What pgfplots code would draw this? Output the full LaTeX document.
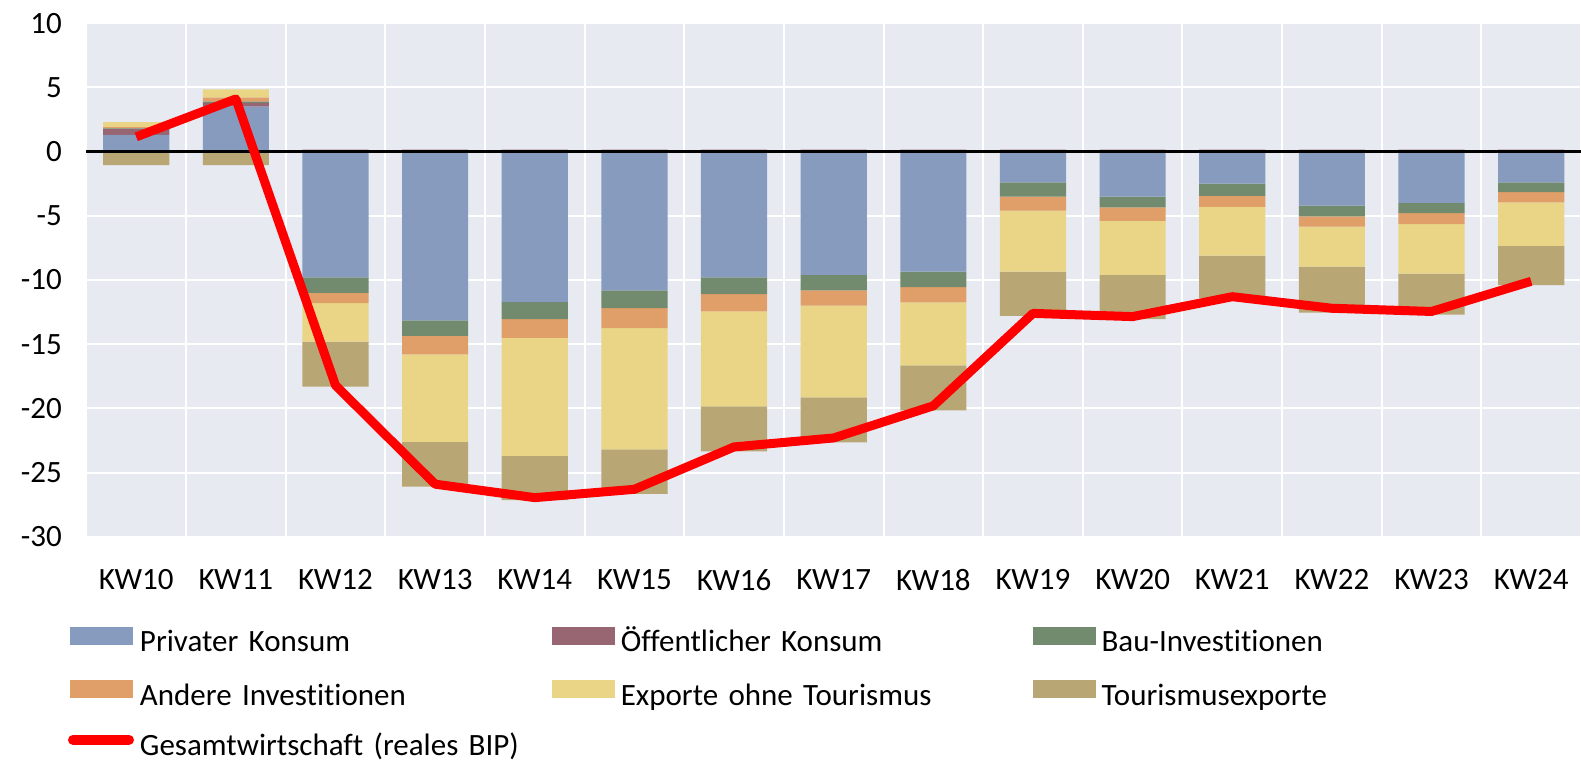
\documentclass[border=0pt]{standalone}
\usepackage{fontspec}
\setmainfont{Carlito}[Ligatures=NoCommon]
\usepackage{pgfplots}
\pgfplotsset{compat=1.18}
\usepackage{pgfplotstable}

\definecolor{cPriv}{HTML}{879BBE}
\definecolor{cOeff}{HTML}{986573}
\definecolor{cBau}{HTML}{728A6D}
\definecolor{cAnd}{HTML}{E09E68}
\definecolor{cExp}{HTML}{E9D585}
\definecolor{cTour}{HTML}{B9A675}
\definecolor{cBg}{HTML}{E7EAF1}

\newcommand{\lblfont}{\fontsize{15.5pt}{18pt}\selectfont}

% negative parts of the contributions
\pgfplotstableread{
x priv oeff bau and exp tour
0 0 0 0 0 0 -1.05
1 0 0 0 0 0 -1.05
2 -9.8 0 -1.2 -0.8 -3.0 -3.5
3 -13.15 0 -1.2 -1.45 -6.8 -3.5
4 -11.7 0 -1.35 -1.45 -9.2 -3.45
5 -10.8 0 -1.4 -1.55 -9.45 -3.45
6 -9.8 0 -1.3 -1.35 -7.4 -3.5
7 -9.6 0 -1.2 -1.2 -7.15 -3.5
8 -9.35 0 -1.2 -1.2 -4.9 -3.5
9 -2.4 0 -1.1 -1.1 -4.75 -3.45
10 -3.5 0 -0.85 -1.05 -4.2 -3.45
11 -2.5 0 -0.95 -0.85 -3.8 -3.3
12 -4.2 0 -0.85 -0.8 -3.1 -3.6
13 -4.0 0 -0.8 -0.85 -3.85 -3.2
14 -2.4 0 -0.75 -0.8 -3.4 -3.05
}\negdata

% positive parts
\pgfplotstableread{
x priv oeff bau and exp tour
0 1.3 0.45 0.05 0.1 0.4 0
1 3.5 0.3 0.1 0.3 0.65 0
2 0 0.15 0 0 0 0
3 0 0.15 0 0 0 0
4 0 0.15 0 0 0 0
5 0 0.15 0 0 0 0
6 0 0.15 0 0 0 0
7 0 0.15 0 0 0 0
8 0 0.15 0 0 0 0
9 0 0.15 0 0 0 0
10 0 0.15 0 0 0 0
11 0 0.15 0 0 0 0
12 0 0.15 0 0 0 0
13 0 0.15 0 0 0 0
14 0 0.15 0 0 0 0
}\posdata

% real GDP
\pgfplotstableread{
x bip
0 1.15
1 4.1
2 -18.2
3 -25.9
4 -26.95
5 -26.3
6 -23.0
7 -22.3
8 -19.8
9 -12.6
10 -12.85
11 -11.3
12 -12.2
13 -12.45
14 -10.1
}\bipdata

\pgfplotsset{
  base/.style={width=747.3pt, height=256.8pt, scale only axis,
    at={(0,0)}, anchor=south west,
    xmin=-0.5, xmax=14.5, ymin=-30, ymax=10},
  seg/.style={fill=#1, draw=none},
}

\begin{document}
\begin{tikzpicture}
% axis with background, grid, ticks and negative stacks
\begin{axis}[base,
    ybar stacked, bar width=0.664,
    axis background/.style={fill=cBg},
    axis line style={draw=none},
    major tick length=0pt, minor tick length=0pt,
    xtick={0,...,14},
    xticklabels={KW10,KW11,KW12,KW13,KW14,KW15,KW16,KW17,KW18,KW19,KW20,KW21,KW22,KW23,KW24},
    minor xtick={-0.5,0.5,...,14.5},
    ytick={-30,-25,...,10},
    ymajorgrids, xminorgrids,
    major grid style={white, line width=1pt},
    minor grid style={white, line width=1pt},
    /pgf/number format/assume math mode=true,
    tick label style={font=\lblfont},
    xticklabel style={yshift=-12.6pt},
    yticklabel style={xshift=-8.8pt},
]
\addplot[seg=cPriv] table[y=priv] {\negdata};
\addplot[seg=cOeff] table[y=oeff] {\negdata};
\addplot[seg=cBau]  table[y=bau]  {\negdata};
\addplot[seg=cAnd]  table[y=and]  {\negdata};
\addplot[seg=cExp]  table[y=exp]  {\negdata};
\addplot[seg=cTour] table[y=tour] {\negdata};
\end{axis}

% positive stacks
\begin{axis}[base, hide axis, ybar stacked, bar width=0.664]
\addplot[seg=cPriv] table[y=priv] {\posdata};
\addplot[seg=cOeff] table[y=oeff] {\posdata};
\addplot[seg=cBau]  table[y=bau]  {\posdata};
\addplot[seg=cAnd]  table[y=and]  {\posdata};
\addplot[seg=cExp]  table[y=exp]  {\posdata};
\addplot[seg=cTour] table[y=tour] {\posdata};
\end{axis}

% zero line, GDP line and legend
\begin{axis}[base, hide axis, clip=false,
    legend columns=3,
    legend cell align=left,
    legend style={at={(axis description cs:0,0)}, anchor=north west,
      xshift=-9.2pt, yshift=-45pt, draw=none, fill=none,
      inner sep=0pt, outer sep=0pt,
      /tikz/column sep=0pt, /tikz/row sep=11.8pt,
      nodes={font=\lblfont, text width=203pt, inner xsep=3pt, inner ysep=0pt,
        text height=11pt, text depth=2.5pt}},
]
\draw[black, line width=1.2pt] (axis cs:-0.5,0) -- (axis cs:14.5,0);
\addlegendimage{legend image code/.code={\fill[cPriv] (0pt,-0.5pt) rectangle (31pt,8pt);}}
\addlegendentry{Privater Konsum}
\addlegendimage{legend image code/.code={\fill[cOeff] (0pt,-0.5pt) rectangle (31pt,8pt);}}
\addlegendentry{Öffentlicher Konsum}
\addlegendimage{legend image code/.code={\fill[cBau] (0pt,-0.5pt) rectangle (31pt,8pt);}}
\addlegendentry{Bau-Investitionen}
\addlegendimage{legend image code/.code={\fill[cAnd] (0pt,-0.5pt) rectangle (31pt,8pt);}}
\addlegendentry{Andere Investitionen}
\addlegendimage{legend image code/.code={\fill[cExp] (0pt,-0.5pt) rectangle (31pt,8pt);}}
\addlegendentry{Exporte ohne Tourismus}
\addlegendimage{legend image code/.code={\fill[cTour] (0pt,-0.5pt) rectangle (31pt,8pt);}}
\addlegendentry{Tourismusexporte}
\addplot[red, line width=4.5pt, line join=round, mark=none,
  legend image code/.code={\draw[red, line width=5pt, line cap=round] (1.5pt,3.75pt) -- (29.5pt,3.75pt);}]
  table[y=bip] {\bipdata};
\addlegendentry{Gesamtwirtschaft (reales BIP)}
\end{axis}
\pgfresetboundingbox
\useasboundingbox (-43.2pt,-112.6pt) rectangle (747.3pt,268.4pt);
\end{tikzpicture}
\end{document}
